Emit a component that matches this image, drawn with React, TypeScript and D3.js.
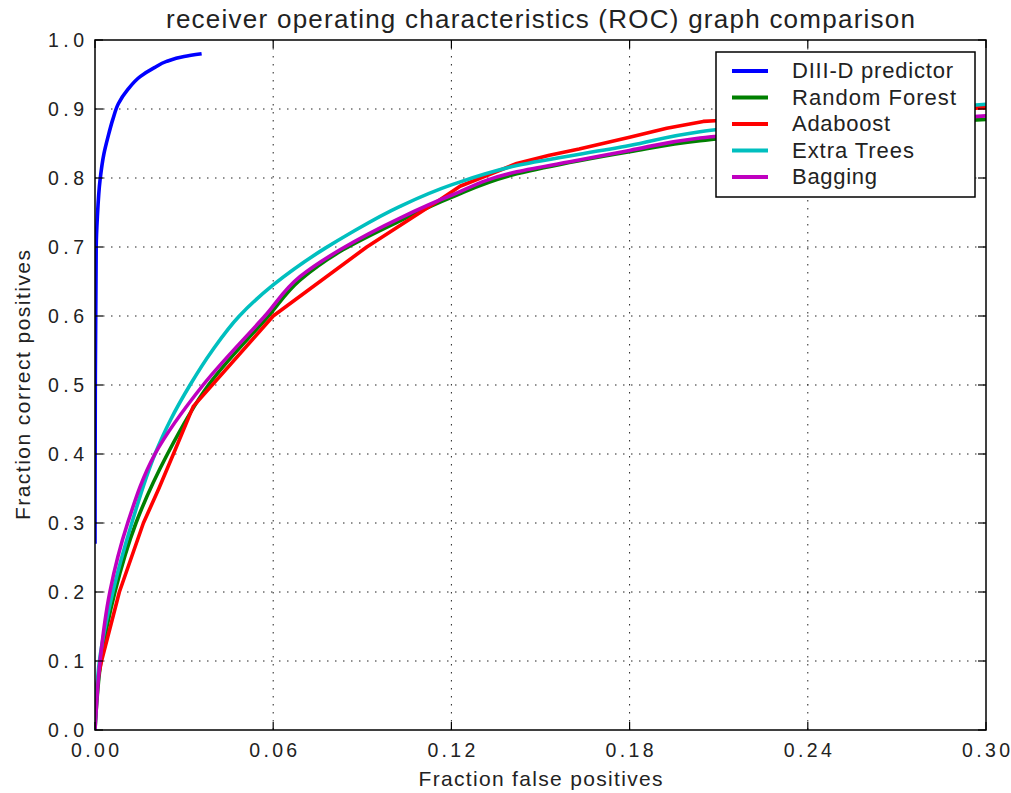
import React from "react";
import * as d3 from "d3";

type Pt = [number, number];

const xTicks = [0, 0.06, 0.12, 0.18, 0.24, 0.3];
const xTickLabels = ["0.00", "0.06", "0.12", "0.18", "0.24", "0.30"];
const yTicks = [0, 0.1, 0.2, 0.3, 0.4, 0.5, 0.6, 0.7, 0.8, 0.9, 1.0];
const yTickLabels = ["0.0", "0.1", "0.2", "0.3", "0.4", "0.5", "0.6", "0.7", "0.8", "0.9", "1.0"];

const diiidPredictor: Pt[] = [
  [0, 0.27], [0.0001, 0.5], [0.0004, 0.7], [0.0008, 0.744], [0.0017, 0.797], [0.003, 0.835],
  [0.0044, 0.86], [0.006, 0.885], [0.0079, 0.908], [0.011, 0.928], [0.0152, 0.947],
  [0.02, 0.96], [0.0241, 0.969], [0.03, 0.976], [0.0359, 0.98],
];
const randomForest: Pt[] = [
  [0, 0], [0.002, 0.1], [0.0067, 0.2], [0.0138, 0.3], [0.0244, 0.4],
  [0.0382, 0.5], [0.0584, 0.6], [0.069, 0.652], [0.0835, 0.696],
  [0.1027, 0.738], [0.12, 0.772], [0.142, 0.806], [0.163, 0.825], [0.18, 0.838],
  [0.2037, 0.854], [0.24, 0.868], [0.27, 0.878], [0.3, 0.885],
];
const adaboost: Pt[] = [
  [0, 0], [0.0003, 0.06], [0.0022, 0.1], [0.0082, 0.2], [0.0163, 0.3], [0.0215, 0.35],
  [0.0264, 0.4], [0.0331, 0.469], [0.06, 0.6], [0.0915, 0.7], [0.116, 0.768],
  [0.1229, 0.788], [0.142, 0.821], [0.153, 0.833], [0.163, 0.842], [0.18, 0.859],
  [0.1925, 0.872], [0.2048, 0.882], [0.2088, 0.883], [0.25, 0.893], [0.3, 0.902],
];
const extraTrees: Pt[] = [
  [0, 0], [0.0015, 0.1], [0.006, 0.2], [0.0124, 0.3], [0.0202, 0.4],
  [0.0255, 0.45], [0.032, 0.5], [0.0395, 0.55], [0.0486, 0.6], [0.06, 0.645],
  [0.0774, 0.698], [0.0859, 0.72], [0.1027, 0.759], [0.12, 0.79], [0.142, 0.818],
  [0.18, 0.847], [0.2037, 0.867], [0.24, 0.884], [0.27, 0.897], [0.3, 0.907],
];
const bagging: Pt[] = [
  [0, 0], [0.0017, 0.1], [0.005, 0.2], [0.011, 0.3], [0.0202, 0.4],
  [0.0364, 0.5], [0.0572, 0.6], [0.069, 0.657], [0.0825, 0.696],
  [0.1027, 0.742], [0.12, 0.775], [0.142, 0.809], [0.163, 0.826], [0.18, 0.84],
  [0.2037, 0.858], [0.24, 0.872], [0.27, 0.882], [0.3, 0.89],
];

const seriesNames = ["DIII-D predictor", "Random Forest", "Adaboost", "Extra Trees", "Bagging"];
const seriesColors = ["#0000ff", "#008000", "#ff0000", "#00bfbf", "#bf00bf"];
const seriesData = [diiidPredictor, randomForest, adaboost, extraTrees, bagging];
const seriesSmooth = [true, true, false, true, true];
const legendTextWidths = [161, 164, 98, 122, 85];

const W = 1011;
const H = 793;
const M = { left: 95, right: 986, top: 40, bottom: 730 };
const FONT = "'Liberation Sans', Arial, Helvetica, sans-serif";

export default function App() {
  const x = d3.scaleLinear().domain([0, 0.3]).range([M.left, M.right]);
  const y = d3.scaleLinear().domain([0, 1]).range([M.bottom, M.top]);
  const smoothLine = d3
    .line<Pt>()
    .x((d) => x(d[0]))
    .y((d) => y(d[1]))
    .curve(d3.curveMonotoneY);
  const straightLine = d3
    .line<Pt>()
    .x((d) => x(d[0]))
    .y((d) => y(d[1]));

  const legendX = 716;
  const legendY = 52;
  const legendW = 259;
  const legendH = 145;
  const rowY0 = 70;
  const rowStep = 26.5;

  return (
    <svg
      width={W}
      height={H}
      style={{ position: "absolute", left: 0, top: 0, background: "#fff" }}
      fontFamily={FONT}
    >
      <rect x={0} y={0} width={W} height={H} fill="#fff" />
      <defs>
        <clipPath id="plotClip">
          <rect x={M.left} y={M.top} width={M.right - M.left} height={M.bottom - M.top} />
        </clipPath>
      </defs>

      {/* grid */}
      <g stroke="#222" strokeWidth={1} strokeDasharray="1.5 6.5">
        {xTicks.slice(1, -1).map((t) => (
          <line key={"gx" + t} x1={x(t)} x2={x(t)} y1={M.top} y2={M.bottom} />
        ))}
        {yTicks.slice(1, -1).map((t) => (
          <line key={"gy" + t} x1={M.left} x2={M.right} y1={y(t)} y2={y(t)} />
        ))}
      </g>

      {/* series */}
      <g clipPath="url(#plotClip)" fill="none" strokeWidth={3.6} strokeLinejoin="round" strokeLinecap="butt">
        {seriesData.map((d, i) => (
          <path
            key={seriesNames[i]}
            d={(seriesSmooth[i] ? smoothLine(d) : straightLine(d)) || ""}
            stroke={seriesColors[i]}
          />
        ))}
      </g>

      {/* ticks inward on all sides */}
      <g stroke="#000" strokeWidth={1.2}>
        {xTicks.map((t) => (
          <g key={"tx" + t}>
            <line x1={x(t)} x2={x(t)} y1={M.bottom} y2={M.bottom - 8} />
            <line x1={x(t)} x2={x(t)} y1={M.top} y2={M.top + 8} />
          </g>
        ))}
        {yTicks.map((t) => (
          <g key={"ty" + t}>
            <line x1={M.left} x2={M.left + 8} y1={y(t)} y2={y(t)} />
            <line x1={M.right} x2={M.right - 8} y1={y(t)} y2={y(t)} />
          </g>
        ))}
      </g>

      {/* frame */}
      <rect
        x={M.left}
        y={M.top}
        width={M.right - M.left}
        height={M.bottom - M.top}
        fill="none"
        stroke="#000"
        strokeWidth={1.5}
      />

      {/* tick labels */}
      <g fontSize={19.5} fill="#222">
        {xTicks.map((t, i) => (
          <text
            key={"lx" + t}
            x={x(t) - 24}
            y={757}
            textLength={48}
            lengthAdjust="spacing"
          >
            {xTickLabels[i]}
          </text>
        ))}
        {yTicks.map((t, i) => (
          <text
            key={"ly" + t}
            x={48}
            y={y(t) + 7}
            textLength={36}
            lengthAdjust="spacing"
          >
            {yTickLabels[i]}
          </text>
        ))}
      </g>

      {/* title and axis labels */}
      <text
        x={(M.left + M.right) / 2 - 374.5}
        y={28}
        fontSize={26}
        fill="#222"
        textLength={749}
        lengthAdjust="spacing"
      >
        receiver operating characteristics (ROC) graph comparison
      </text>
      <text
        x={(M.left + M.right) / 2 - 122}
        y={786}
        fontSize={21}
        fill="#222"
        textLength={244}
        lengthAdjust="spacing"
      >
        Fraction false positives
      </text>
      <text
        transform={`translate(30, ${(M.top + M.bottom) / 2 + 135}) rotate(-90)`}
        fontSize={21}
        fill="#222"
        textLength={270}
        lengthAdjust="spacing"
      >
        Fraction correct positives
      </text>

      {/* legend */}
      <rect x={legendX} y={legendY} width={legendW} height={legendH} fill="#fff" stroke="#000" strokeWidth={1.5} />
      {seriesNames.map((name, i) => (
        <g key={"lg" + name}>
          <line
            x1={732}
            x2={768}
            y1={rowY0 + i * rowStep + 1}
            y2={rowY0 + i * rowStep + 1}
            stroke={seriesColors[i]}
            strokeWidth={4}
          />
          <text
            x={792}
            y={rowY0 + i * rowStep + 8}
            fontSize={22}
            fill="#222"
            textLength={legendTextWidths[i]}
            lengthAdjust="spacing"
          >
            {name}
          </text>
        </g>
      ))}
    </svg>
  );
}
